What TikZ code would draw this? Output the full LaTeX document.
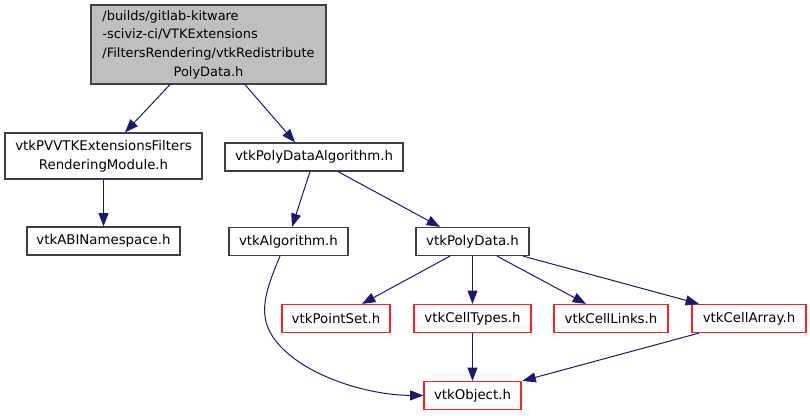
\documentclass[tikz,border=0pt]{standalone}
\usepackage{fontspec}
\setmainfont{DejaVu Sans}
\usetikzlibrary{arrows.meta,calc}
\definecolor{edgeblue}{HTML}{191970}
\definecolor{boxgray}{HTML}{BFBFBF}
\definecolor{boxline}{HTML}{404040}
\definecolor{boxred}{HTML}{FF2020}
\begin{document}
\begin{tikzpicture}[x=0.75pt,y=-0.75pt,
  box/.style={draw=boxline,line width=0.9pt,fill=white,inner sep=0pt,align=center,
    font=\fontsize{10}{14}\selectfont,text=black},
  redbox/.style={box,draw=boxred},
  sz/.style 2 args={minimum width=#1*0.75pt,minimum height=#2*0.75pt},
  edge/.style={draw=edgeblue,line width=0.75pt,-{Triangle[length=10pt,width=7.5pt]}}
]
\useasboundingbox (0,0) rectangle (810,416);

\node[box,fill=boxgray,sz={235}{79},font=\fontsize{9.7}{14}\selectfont] (root) at (208.5,44.5)
  {\begin{tabular}{@{}l@{}}/builds/gitlab-kitware\\-sciviz-ci/VTKExtensions\\/FiltersRendering/vtkRedistribute\\\multicolumn{1}{@{}c@{}}{PolyData.h}\end{tabular}};
\node[box,sz={197}{46}] (pv) at (103.5,156) {vtkPVVTKExtensionsFilters\\RenderingModule.h};
\node[box,sz={153}{28}] (abi) at (103.5,241) {vtkABINamespace.h};
\node[box,sz={178}{28}] (pda) at (314,157) {vtkPolyDataAlgorithm.h};
\node[box,sz={119}{28}] (alg) at (288.5,241.5) {vtkAlgorithm.h};
\node[box,sz={113}{28}] (pd) at (472.5,241.5) {vtkPolyData.h};
\node[redbox,sz={108}{28}] (ps) at (336,318.5) {vtkPointSet.h};
\node[redbox,sz={117}{28}] (ct) at (472.5,318.5) {vtkCellTypes.h};
\node[redbox,sz={114}{28}] (cl) at (611,318.5) {vtkCellLinks.h};
\node[redbox,sz={114}{28}] (ca) at (749,318.5) {vtkCellArray.h};
\node[redbox,sz={97}{28}] (obj) at (472.5,395.5) {vtkObject.h};

\draw[edge] ($(root.south)+(-38.5,0)$) -- ($(pv.north)+(21.5,0)$);
\draw[edge] ($(root.south)+(36.5,0)$) -- ($(pda.north)+(-19,0)$);
\draw[edge] (pv) -- (abi);
\draw[edge] ($(pda.south)+(-4,0)$) -- ($(alg.north)+(3.5,0)$);
\draw[edge] ($(pda.south)+(24,0)$) -- ($(pd.north)+(-32.5,0)$);
\draw[edge] ($(pd.south)+(-22.5,0)$) -- ($(ps.north)+(26,0)$);
\draw[edge] (pd) -- (ct);
\draw[edge] ($(pd.south)+(24.5,0)$) -- ($(cl.north)+(-25,0)$);
\draw[edge] ($(pd.south)+(50.5,0)$) -- ($(ca.north)+(-50,0)$);
\draw[edge] (ct) -- (obj);
\draw[edge] ($(ca.south)+(-50,0)$) -- ($(obj.north)+(50,0)$);
\draw[edge] ($(alg.south)+(-8.5,0)$) .. controls (268,285) and (258,310) .. (270,332)
  .. controls (290,370) and (360,395) .. (obj.west);
\end{tikzpicture}
\end{document}
